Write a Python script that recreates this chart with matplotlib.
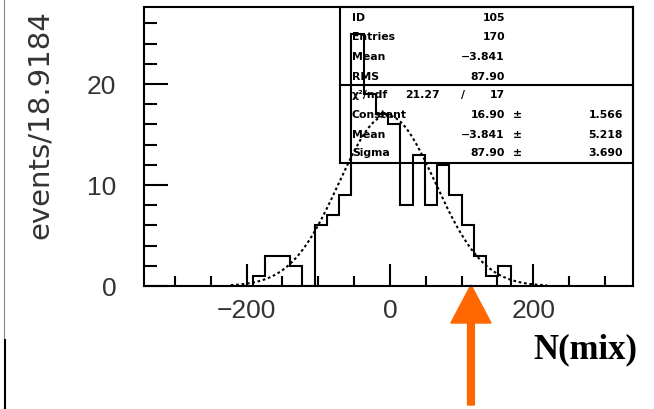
import numpy as np
import matplotlib.pyplot as plt
from matplotlib.patches import Rectangle, FancyArrow
from matplotlib.lines import Line2D
from matplotlib.transforms import blended_transform_factory

# ヒストグラムの中身
bin_start = -190.7
bin_width = 17.1
counts = [1, 3, 3, 2, 0, 6, 7, 9, 25, 19, 17, 16, 8, 13, 8, 12, 9, 6, 3, 1, 2]

# フィット曲線（描かれている形から）
fit_const = 16.90
fit_mean = -3.841
fit_sigma = 67.0
fit_range = (-222, 219)

# 統計ボックスの文字
stat_top = [("ID", "105"), ("Entries", "170"), ("Mean", "\u22123.841"), ("RMS", "87.90")]
chi2_text = ("\u03c7\u00b2/ndf", "21.27", "17")
stat_fit = [("Constant", "16.90", "1.566"), ("Mean", "\u22123.841", "5.218"), ("Sigma", "87.90", "3.690")]

arrow_x = 113
W, H = 654, 409

fig = plt.figure(figsize=(W / 100, H / 100), dpi=100)
ax = fig.add_axes([144 / W, 1 - 286 / H, (633 - 144) / W, (286 - 7.3) / H])

edges = bin_start + bin_width * np.arange(len(counts) + 1)
ax.stairs(counts, edges, color='black', linewidth=1.5)

xs = np.linspace(fit_range[0], fit_range[1], 400)
ys = fit_const * np.exp(-0.5 * ((xs - fit_mean) / fit_sigma) ** 2)
ax.plot(xs, ys, color='black', linewidth=1.5, linestyle=(0, (1.3, 1.3)))

ax.set_xlim(-343, 339)
ax.set_ylim(0, 27.6)

ax.set_xticks([-200, 0, 200], labels=["\u2212200", "0", "200"])
ax.set_xticks(np.arange(-300, 301, 50), minor=True)
ax.set_yticks([0, 10, 20])
ax.set_yticks(np.arange(0, 27, 2), minor=True)

ax.tick_params(which='both', direction='in', width=1.5, top=False, right=False,
               labelsize=19, labelcolor='#333333')
ax.tick_params(axis='x', which='major', length=16, pad=9)
ax.tick_params(axis='x', which='minor', length=7)
ax.tick_params(axis='y', which='major', length=17, pad=20)
ax.tick_params(axis='y', which='minor', length=9)
for lab in ax.get_xticklabels() + ax.get_yticklabels():
    lab.set_fontfamily('Liberation Sans')
for s in ax.spines.values():
    s.set_linewidth(1.5)

# 統計ボックス
bx0 = (340 - 144) / (633 - 144)
by0 = (286 - 163.3) / (286 - 7.3)
bdiv = (286 - 85) / (286 - 7.3)
ax.add_patch(Rectangle((bx0, by0), 1 - bx0, 1 - by0, transform=ax.transAxes,
                       fill=False, edgecolor='black', linewidth=1.5, clip_on=False))
ax.add_line(Line2D([bx0, 1], [bdiv, bdiv], transform=ax.transAxes, color='black', linewidth=1.5))

def ftext(px, py, s, ha='left'):
    fig.text(px / W, 1 - py / H, s, ha=ha, va='center', fontsize=7.8,
             family='DejaVu Sans', weight='bold')

rows_y = [18, 37.5, 57.5, 77]
for (name, val), py in zip(stat_top, rows_y):
    ftext(352, py, name)
    ftext(505, py, val, ha='right')

ftext(352, 95, chi2_text[0])
ftext(440, 95, chi2_text[1], ha='right')
ftext(463, 95, "/", ha='center')
ftext(505, 95, chi2_text[2], ha='right')

for (name, val, err), py in zip(stat_fit, [115, 134.5, 153.5]):
    ftext(352, py, name)
    ftext(505, py, val, ha='right')
    ftext(517, py, "\u00b1", ha='center')
    ftext(623, py, err, ha='right')

# 縦軸ラベル
fig.text(40 / W, 1 - 125 / H, "events/18.9184", rotation=90, ha='center', va='center',
         fontsize=21, color='#333333', family='DejaVu Sans')

# 左端の線
fig.add_artist(Line2D([4 / W, 4 / W], [1, 1 - 340 / H], color='#888888', linewidth=0.8))
fig.add_artist(Line2D([5 / W, 5 / W], [1 - 340 / H, 0], color='black', linewidth=1.5))

# オレンジの矢印
tr = blended_transform_factory(ax.transData, fig.transFigure)
tail = 1 - 405 / H
tip = 1 - 285 / H
ax.add_patch(FancyArrow(arrow_x, tail, 0, tip - tail, width=9.5, head_width=56,
                        head_length=38 / H, length_includes_head=True,
                        color='#ff6600', transform=tr, clip_on=False))

fig.text(585 / W, 1 - 350 / H, "N(mix)", ha='center', va='center', fontsize=25,
         family='Liberation Serif', weight='bold')

fig.savefig("out.png", dpi=100)
